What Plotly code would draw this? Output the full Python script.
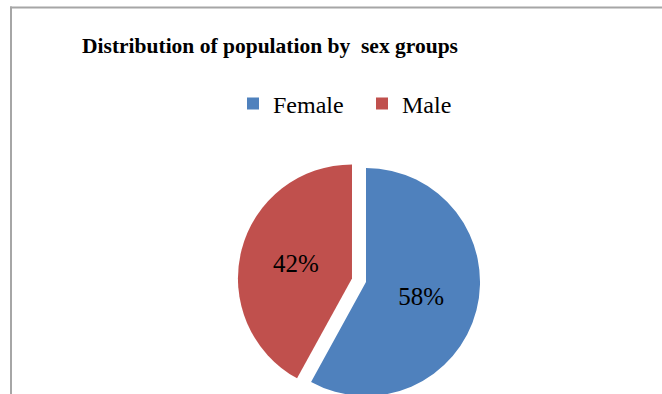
import plotly.graph_objects as go

# ---- data ----
labels = ["Female", "Male"]
values = [58, 42]
colors = ["#4F81BD", "#C0504D"]
title_text = "Distribution of population by  sex groups"

W, H = 662, 420
pull = [0, 0.127]

fig = go.Figure()
fig.add_trace(go.Pie(
    labels=labels,
    values=values,
    sort=False,
    direction="clockwise",
    rotation=0,
    pull=pull,
    marker=dict(colors=colors, line=dict(width=0)),
    textinfo="percent",
    texttemplate="%{percent:.0%}",
    textposition="inside",
    insidetextorientation="horizontal",
    textfont=dict(family="Liberation Serif", size=25, color="#000000"),
    domain=dict(x=[237.5 / W, 494.5 / W], y=[1 - 410.5 / H, 1 - 153.5 / H]),
    showlegend=True,
    hoverinfo="skip",
))

fig.update_layout(
    width=W,
    height=H,
    margin=dict(l=0, r=0, t=0, b=0),
    paper_bgcolor="white",
    plot_bgcolor="white",
    title=dict(
        text=title_text,
        x=270 / W,
        xanchor="center",
        xref="paper",
        y=1 - 45 / H,
        yref="container",
        yanchor="middle",
        font=dict(family="Liberation Serif", size=21.5, color="#000000", weight="bold"),
    ),
    legend=dict(
        orientation="h",
        x=(248 - 15) / W,
        xanchor="left",
        y=1 - 104 / H,
        yanchor="middle",
        font=dict(family="Liberation Serif", size=24, color="#000000"),
        bgcolor="rgba(0,0,0,0)",
        entrywidth=84,
        entrywidthmode="pixels",
        itemclick=False,
        itemdoubleclick=False,
    ),
    shapes=[
        dict(type="line", xref="paper", yref="paper", x0=10 / W, x1=1.05,
             y0=1 - 7.5 / H, y1=1 - 7.5 / H, line=dict(color="#A6A6A6", width=2)),
        dict(type="line", xref="paper", yref="paper", x0=11 / W, x1=11 / W,
             y0=1 - 6.5 / H, y1=-0.05, line=dict(color="#A6A6A6", width=2)),
    ],
)

fig.write_html(
    "out.html",
    config={"displayModeBar": False},
    post_script="document.body.style.overflow='hidden';document.body.style.margin='0';",
)
